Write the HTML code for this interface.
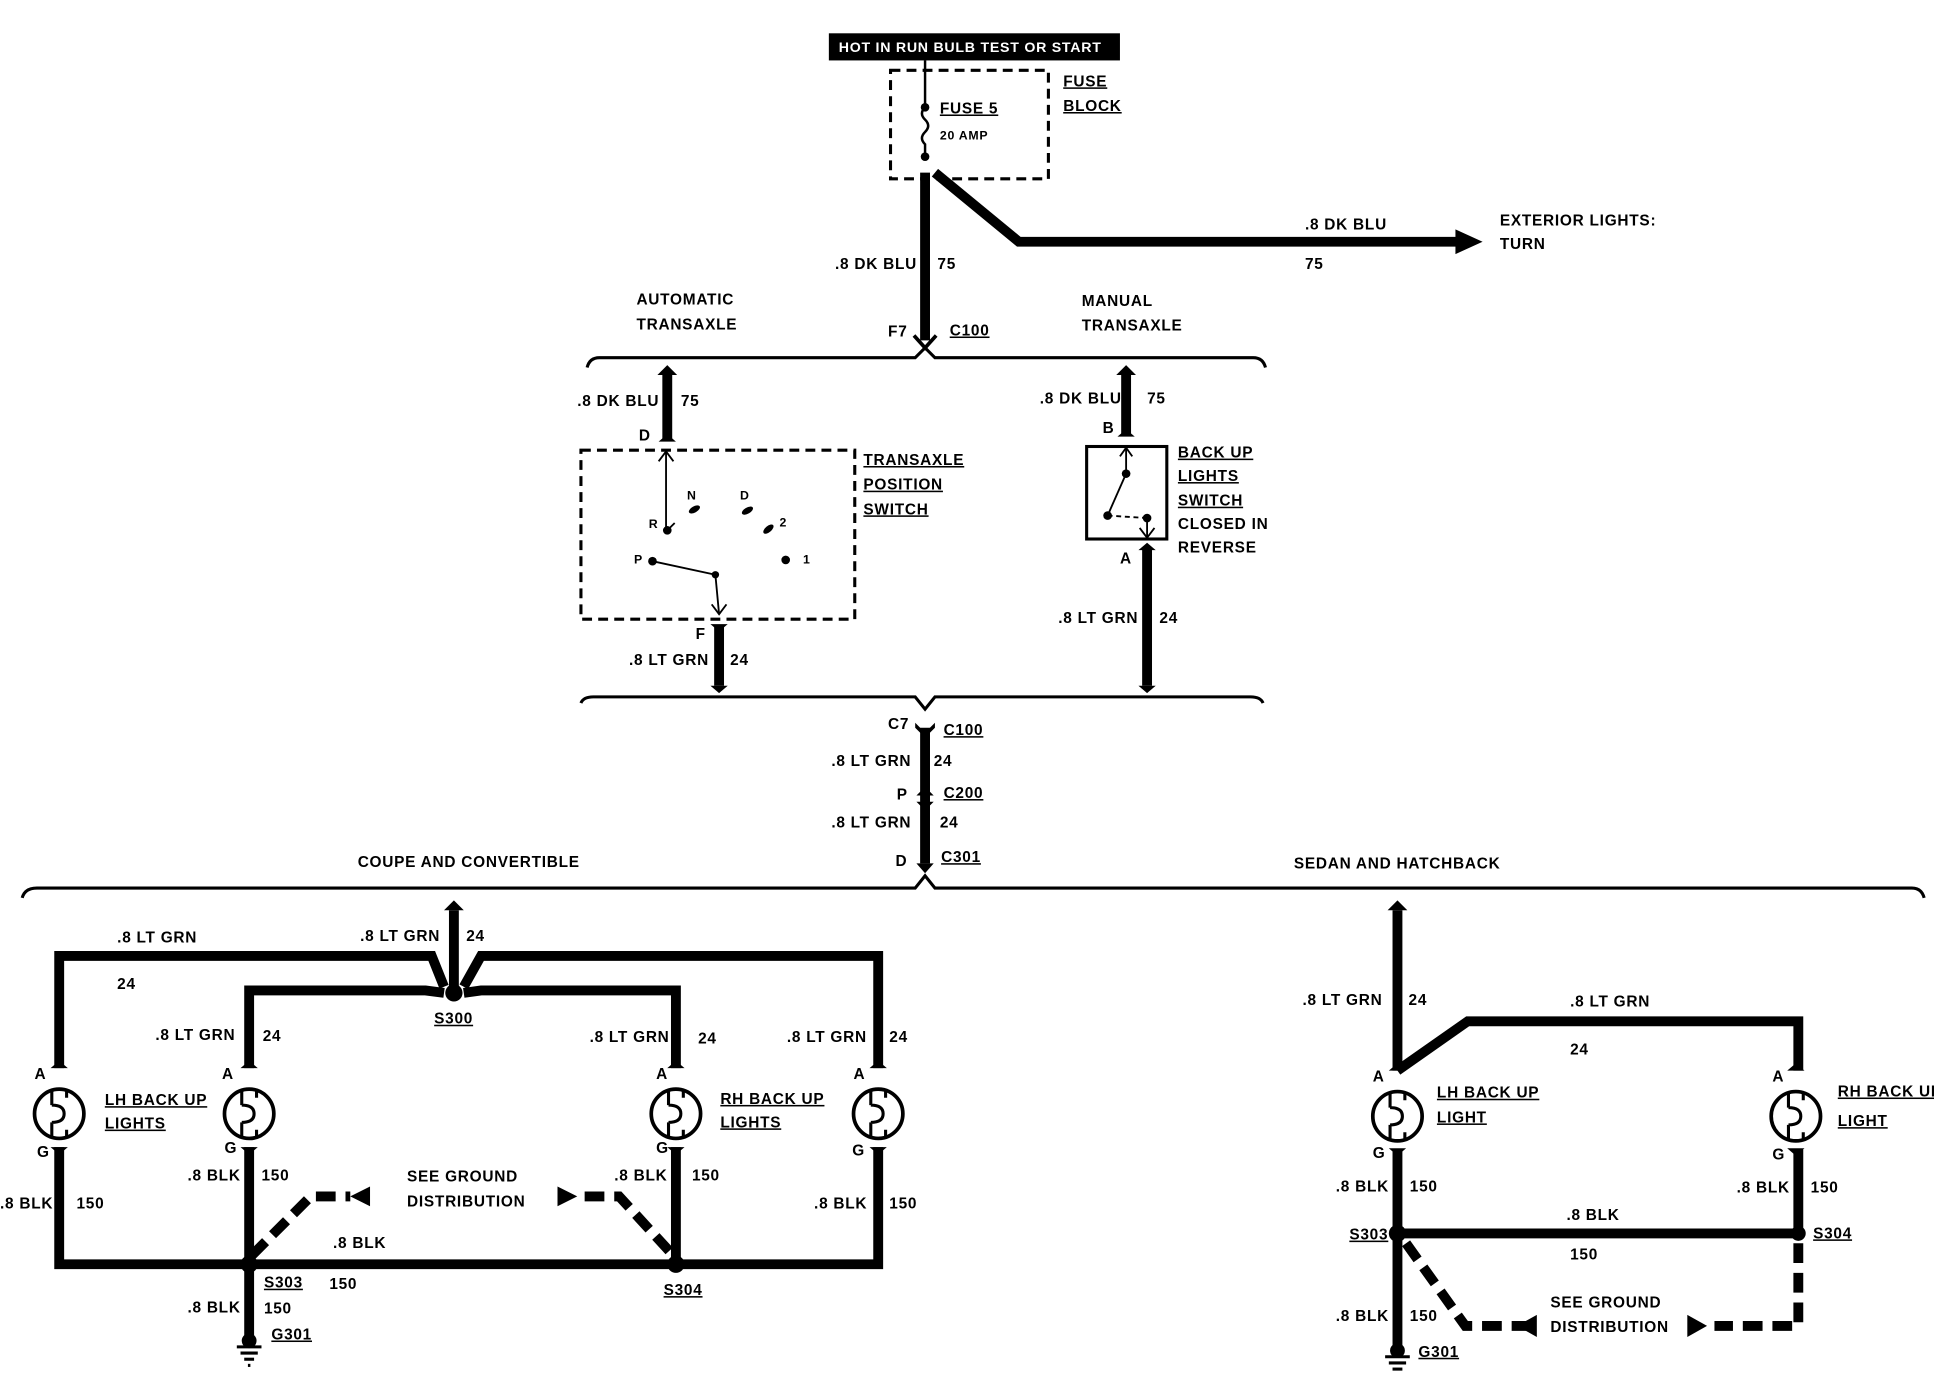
<!DOCTYPE html>
<html><head><meta charset="utf-8"><style>
html,body{margin:0;padding:0;background:#fff;}
svg{display:block}
text{font-family:"Liberation Sans",sans-serif;font-weight:bold;font-size:12.5px;fill:#000;letter-spacing:0.6px}
.u{text-decoration:underline}
</style></head><body>
<svg width="1934" height="1376" viewBox="0 0 1568 1115.6" xmlns="http://www.w3.org/2000/svg">
<rect width="1568" height="1116" fill="#fff"/>
<!-- top -->
<rect x="672" y="27" width="236" height="22" fill="#000"/>
<text x="680" y="42" style="fill:#fff;font-size:11.5px">HOT IN RUN BULB TEST OR START</text>
<rect x="722" y="57" width="128" height="88" fill="none" stroke="#000" stroke-width="2.5" stroke-dasharray="8,5"/>
<line x1="750" y1="49" x2="750" y2="87" stroke="#000" stroke-width="2"/>
<path d="M750 87 q-5 5 0 10 q5 5 0 10 q-5 5 0 10 L750 127" fill="none" stroke="#000" stroke-width="2"/>
<circle cx="750" cy="87" r="3.5"/><circle cx="750" cy="127" r="3.5"/>
<text x="762" y="92" class="u">FUSE 5</text>
<text x="762" y="113" style="font-size:10px">20 AMP</text>
<text x="862" y="70" class="u">FUSE</text>
<text x="862" y="90" class="u">BLOCK</text>
<g stroke="#000" stroke-width="8" fill="none">
<line x1="750" y1="140" x2="750" y2="276"/>
<polyline points="758,140 826,196 1182,196"/>
</g>
<polygon points="1180,186 1202,196 1180,206"/>
<text x="1058" y="186">.8 DK BLU</text><text x="1058" y="218">75</text>
<text x="1216" y="183">EXTERIOR LIGHTS:</text><text x="1216" y="202">TURN</text>
<text x="677" y="218">.8 DK BLU</text><text x="760" y="218">75</text>
<text x="720" y="273">F7</text><text x="770" y="272" class="u">C100</text>
<text x="516" y="247">AUTOMATIC</text><text x="516" y="267">TRANSAXLE</text>
<text x="877" y="248">MANUAL</text><text x="877" y="268">TRANSAXLE</text>
<path d="M741 272 L750 282 L759 272" fill="none" stroke="#000" stroke-width="3"/>
<path d="M476 298 Q478 290 486 290 L742 290 L750 282 L758 290 L1016 290 Q1024 290 1026 298" fill="none" stroke="#000" stroke-width="2.5"/>
<!-- automatic -->
<g stroke="#000" stroke-width="8" fill="none">
<line x1="541" y1="302" x2="541" y2="356"/>
<line x1="583" y1="507" x2="583" y2="556"/>
<line x1="913" y1="302" x2="913" y2="352"/>
<line x1="930" y1="445" x2="930" y2="556"/>
</g>
<g fill="#000">
<path d="M533 304 L541 296 L549 304Z"/><path d="M534 358 L541 352 L548 358Z"/>
<path d="M576 506 L583 512 L590 506Z"/><path d="M576 556 L583 562 L590 556Z"/>
<path d="M905 304 L913 296 L921 304Z"/><path d="M906 354 L913 348 L920 354Z"/>
<path d="M923 446 L930 440 L937 446Z"/><path d="M923 556 L930 562 L937 556Z"/>
</g>
<text x="468" y="329">.8 DK BLU</text><text x="552" y="329">75</text>
<text x="518" y="357">D</text>
<rect x="471" y="365" width="222" height="137" fill="none" stroke="#000" stroke-width="2.5" stroke-dasharray="8,5"/>
<text x="700" y="377" class="u">TRANSAXLE</text><text x="700" y="397" class="u">POSITION</text><text x="700" y="417" class="u">SWITCH</text>
<g stroke="#000" stroke-width="1.5" fill="none">
<line x1="540" y1="430" x2="540" y2="366"/><polyline points="534,374 540,366 546,374"/>
<polyline points="529,455 580,466 583,498"/><polyline points="577,490 583,498 589,490"/>
<line x1="541" y1="430" x2="547" y2="424"/>
</g>
<g fill="#000">
<circle cx="541" cy="430" r="3.5"/><circle cx="529" cy="455" r="3.5"/><circle cx="580" cy="466" r="3"/>
<ellipse cx="563" cy="413" rx="5" ry="2.5" transform="rotate(-30 563 413)"/>
<ellipse cx="606" cy="414" rx="5" ry="2.5" transform="rotate(-30 606 414)"/>
<ellipse cx="623" cy="429" rx="5" ry="2.5" transform="rotate(-40 623 429)"/>
<circle cx="637" cy="454" r="3.5"/>
</g>
<text x="526" y="428" style="font-size:10px">R</text><text x="557" y="405" style="font-size:10px">N</text>
<text x="600" y="405" style="font-size:10px">D</text><text x="632" y="427" style="font-size:10px">2</text>
<text x="651" y="457" style="font-size:10px">1</text><text x="514" y="457" style="font-size:10px">P</text>
<text x="564" y="518">F</text>
<text x="510" y="539">.8 LT GRN</text><text x="592" y="539">24</text>
<!-- manual -->
<text x="843" y="327">.8 DK BLU</text><text x="930" y="327">75</text>
<text x="894" y="351">B</text>
<rect x="881" y="362" width="65" height="75" fill="none" stroke="#000" stroke-width="2.5"/>
<g stroke="#000" stroke-width="1.5" fill="none">
<line x1="913" y1="362" x2="913" y2="384"/><polyline points="908,370 913,363 918,370"/>
<line x1="913" y1="384" x2="898" y2="418"/><line x1="898" y1="418" x2="930" y2="420" stroke-dasharray="4,3"/>
<line x1="930" y1="420" x2="930" y2="436"/><polyline points="924,428 930,436 936,428"/>
</g>
<circle cx="913" cy="384" r="3.5"/><circle cx="898" cy="418" r="3.5"/><circle cx="930" cy="420" r="3.5"/>
<text x="955" y="371" class="u">BACK UP</text><text x="955" y="390" class="u">LIGHTS</text><text x="955" y="410" class="u">SWITCH</text>
<text x="955" y="429">CLOSED IN</text><text x="955" y="448">REVERSE</text>
<text x="908" y="457">A</text>
<text x="858" y="505">.8 LT GRN</text><text x="940" y="505">24</text>
<path d="M471 570 Q473 565 481 565 L742 565 L750 575 L758 565 L1014 565 Q1022 565 1024 570" fill="none" stroke="#000" stroke-width="2.5"/>
<!-- middle chain -->
<g stroke="#000" stroke-width="8"><line x1="750" y1="590" x2="750" y2="700"/></g>
<g fill="#000">
<path d="M742 586 L750 594 L758 586 L758 590 L750 598 L742 590Z"/>
<path d="M743 645 L750 638 L757 645Z"/><path d="M743 650 L750 657 L757 650Z"/>
<path d="M743 700 L750 708 L757 700Z"/>
</g>
<text x="720" y="591">C7</text><text x="765" y="596" class="u">C100</text>
<text x="674" y="621">.8 LT GRN</text><text x="757" y="621">24</text>
<text x="727" y="648">P</text><text x="765" y="647" class="u">C200</text>
<text x="674" y="671">.8 LT GRN</text><text x="762" y="671">24</text>
<text x="726" y="702">D</text><text x="763" y="699" class="u">C301</text>
<path d="M18 728 Q20 720 30 720 L742 720 L750 710 L758 720 L1550 720 Q1558 720 1560 728" fill="none" stroke="#000" stroke-width="2.5"/>
<text x="290" y="703">COUPE AND CONVERTIBLE</text>
<text x="1049" y="704">SEDAN AND HATCHBACK</text>
<!-- coupe wires -->
<g stroke="#000" stroke-width="8" fill="none" stroke-linejoin="miter">
<line x1="368" y1="738" x2="368" y2="805"/>
<polyline points="360,800 350,775 48,775 48,866"/>
<polyline points="376,800 390,775 712,775 712,866"/>
<polyline points="360,805 345,803 202,803 202,866"/>
<polyline points="376,805 390,803 548,803 548,866"/>
<polyline points="48,930 48,1025 712,1025 712,930"/>
<line x1="202" y1="930" x2="202" y2="1085"/>
<line x1="548" y1="930" x2="548" y2="1025"/>
</g>
<path d="M360 738 L368 730 L376 738Z"/>
<g stroke="#000" stroke-width="8" fill="none" stroke-dasharray="16,8">
<polyline points="204,1018 252,970 284,970"/>
<polyline points="474,970 502,970 546,1018"/>
</g>
<polygon points="284,970 300,962 300,978"/><polygon points="468,970 452,962 452,978"/>
<circle cx="368" cy="805" r="7"/><circle cx="202" cy="1025" r="7"/><circle cx="548" cy="1025" r="7"/>
<g id="bulb">
</g>
<!-- bulbs -->
<g fill="#fff" stroke="#000" stroke-width="3">
<circle cx="48" cy="903" r="20"/><circle cx="202" cy="903" r="20"/><circle cx="548" cy="903" r="20"/><circle cx="712" cy="903" r="20"/>
<circle cx="1133" cy="905" r="20"/><circle cx="1456" cy="905" r="20"/>
</g>
<g fill="none" stroke="#000" stroke-width="2.5">
<path d="M42 883 L42 896 M42 910 L42 923 M42 896 q10 0 10 7 q0 7 -10 7 M54 883 v7 M54 916 v7"/>
<path d="M196 883 L196 896 M196 910 L196 923 M196 896 q10 0 10 7 q0 7 -10 7 M208 883 v7 M208 916 v7"/>
<path d="M542 883 L542 896 M542 910 L542 923 M542 896 q10 0 10 7 q0 7 -10 7 M554 883 v7 M554 916 v7"/>
<path d="M706 883 L706 896 M706 910 L706 923 M706 896 q10 0 10 7 q0 7 -10 7 M718 883 v7 M718 916 v7"/>
<path d="M1127 885 L1127 898 M1127 912 L1127 925 M1127 898 q10 0 10 7 q0 7 -10 7 M1139 885 v7 M1139 918 v7"/>
<path d="M1450 885 L1450 898 M1450 912 L1450 925 M1450 898 q10 0 10 7 q0 7 -10 7 M1462 885 v7 M1462 918 v7"/>
</g>
<g fill="#000">
<path d="M41 866 L48 860 L55 866Z"/><path d="M195 866 L202 860 L209 866Z"/><path d="M541 866 L548 860 L555 866Z"/><path d="M705 866 L712 860 L719 866Z"/>
<path d="M41 930 L48 936 L55 930Z"/><path d="M195 930 L202 936 L209 930Z"/><path d="M541 930 L548 936 L555 930Z"/><path d="M705 930 L712 936 L719 930Z"/>
</g>
<text x="95" y="764">.8 LT GRN</text><text x="95" y="802">24</text>
<text x="292" y="763">.8 LT GRN</text><text x="378" y="763">24</text>
<text x="352" y="830" class="u">S300</text>
<text x="126" y="843">.8 LT GRN</text><text x="213" y="844">24</text>
<text x="478" y="845">.8 LT GRN</text><text x="566" y="846">24</text>
<text x="638" y="845">.8 LT GRN</text><text x="721" y="845">24</text>
<text x="28" y="875">A</text><text x="180" y="875">A</text><text x="532" y="875">A</text><text x="692" y="875">A</text>
<text x="85" y="896" class="u">LH BACK UP</text><text x="85" y="915" class="u">LIGHTS</text>
<text x="584" y="895" class="u">RH BACK UP</text><text x="584" y="914" class="u">LIGHTS</text>
<text x="30" y="938">G</text><text x="182" y="935">G</text><text x="532" y="935">G</text><text x="691" y="937">G</text>
<text x="152" y="957">.8 BLK</text><text x="212" y="957">150</text>
<text x="498" y="957">.8 BLK</text><text x="561" y="957">150</text>
<text x="0" y="980">.8 BLK</text><text x="62" y="980">150</text>
<text x="660" y="980">.8 BLK</text><text x="721" y="980">150</text>
<text x="330" y="958">SEE GROUND</text><text x="330" y="978">DISTRIBUTION</text>
<text x="270" y="1012">.8 BLK</text>
<text x="214" y="1044" class="u">S303</text><text x="267" y="1045">150</text>
<text x="538" y="1050" class="u">S304</text>
<text x="152" y="1064">.8 BLK</text><text x="214" y="1065">150</text>
<text x="220" y="1086" class="u">G301</text>
<g stroke="#000" stroke-width="2.5"><line x1="192" y1="1092" x2="212" y2="1092"/><line x1="195" y1="1097" x2="209" y2="1097"/><line x1="198" y1="1102" x2="206" y2="1102"/><line x1="201" y1="1107" x2="203" y2="1107"/></g>
<circle cx="202" cy="1087" r="6"/>
<!-- sedan -->
<g stroke="#000" stroke-width="8" fill="none">
<line x1="1133" y1="738" x2="1133" y2="868"/>
<polyline points="1133,868 1190,828 1458,828 1458,868"/>
<line x1="1133" y1="932" x2="1133" y2="1095"/>
<line x1="1458" y1="932" x2="1458" y2="1000"/>
<line x1="1133" y1="1000" x2="1458" y2="1000"/>
</g>
<g stroke="#000" stroke-width="8" fill="none" stroke-dasharray="16,8">
<polyline points="1140,1008 1188,1075 1240,1075"/>
<polyline points="1458,1008 1458,1075 1390,1075"/>
</g>
<polygon points="1230,1075 1246,1066 1246,1084"/><polygon points="1384,1075 1368,1066 1368,1084"/>
<path d="M1125 738 L1133 730 L1141 738Z"/>
<path d="M1126 868 L1133 862 L1140 868Z"/><path d="M1449 868 L1456 862 L1463 868Z"/>
<path d="M1126 931 L1133 937 L1140 931Z"/><path d="M1449 931 L1456 937 L1463 931Z"/>
<circle cx="1133" cy="1000" r="7"/><circle cx="1458" cy="1000" r="6"/>
<text x="1056" y="815">.8 LT GRN</text><text x="1142" y="815">24</text>
<text x="1273" y="816">.8 LT GRN</text><text x="1273" y="855">24</text>
<text x="1113" y="877">A</text><text x="1437" y="877">A</text>
<text x="1165" y="890" class="u">LH BACK UP</text><text x="1165" y="910" class="u">LIGHT</text>
<text x="1490" y="889" class="u">RH BACK UP</text><text x="1490" y="913" class="u">LIGHT</text>
<text x="1113" y="939">G</text><text x="1437" y="940">G</text>
<text x="1083" y="966">.8 BLK</text><text x="1143" y="966">150</text>
<text x="1408" y="967">.8 BLK</text><text x="1468" y="967">150</text>
<text x="1270" y="989">.8 BLK</text><text x="1273" y="1021">150</text>
<text x="1094" y="1005" class="u">S303</text><text x="1470" y="1004" class="u">S304</text>
<text x="1257" y="1060">SEE GROUND</text><text x="1257" y="1080">DISTRIBUTION</text>
<text x="1083" y="1071">.8 BLK</text><text x="1143" y="1071">150</text>
<text x="1150" y="1100" class="u">G301</text>
<circle cx="1133" cy="1095" r="6"/>
<g stroke="#000" stroke-width="2.5"><line x1="1123" y1="1100" x2="1143" y2="1100"/><line x1="1126" y1="1105" x2="1140" y2="1105"/><line x1="1129" y1="1110" x2="1137" y2="1110"/></g>
</svg>
</body></html>
